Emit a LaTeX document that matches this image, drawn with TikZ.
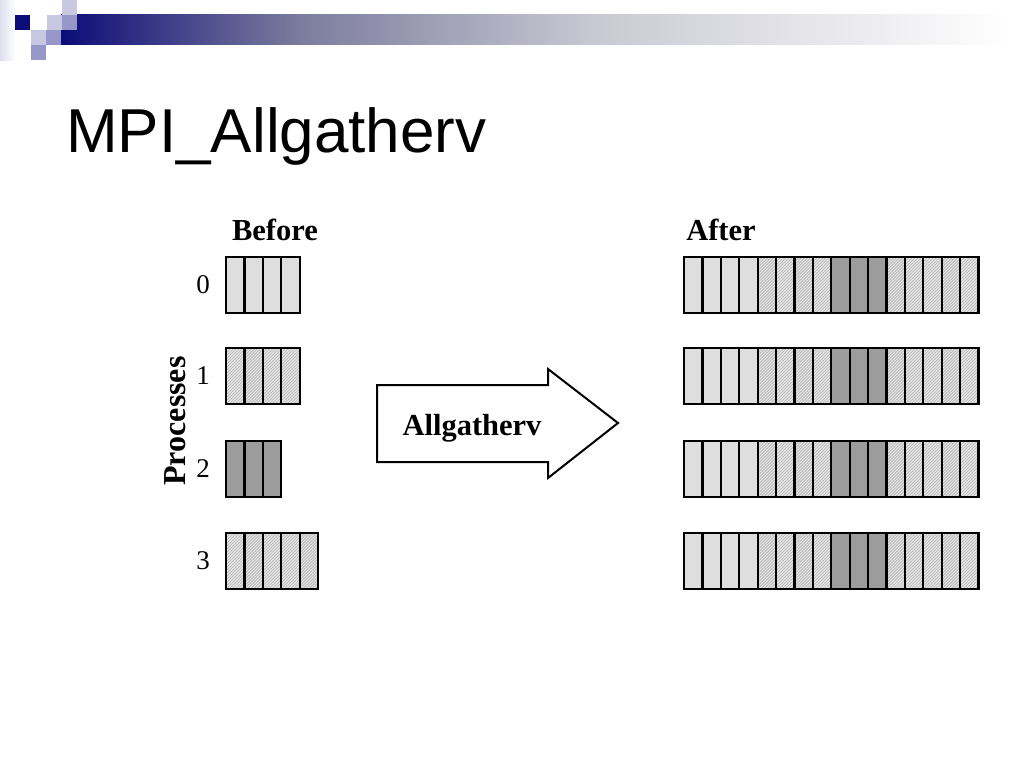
\documentclass[tikz,border=0pt]{standalone}
\usepackage{fontspec}
\setmainfont{Liberation Serif}
\newfontfamily\titlefont{Liberation Sans}
\usepackage{tikz}
\definecolor{navy}{HTML}{0C0C78}
\definecolor{barmid}{HTML}{7C7C9E}
\definecolor{barlight}{HTML}{CACAD4}
\definecolor{sqlight}{HTML}{C8C8E2}
\definecolor{sqmid}{HTML}{9696C8}
\definecolor{cellgray}{HTML}{DEDEDE}
\definecolor{hatchgray}{HTML}{E4E4E4}
\definecolor{hatchline}{HTML}{B4B4B4}
\definecolor{darkcell}{HTML}{9C9C9C}
\tikzset{
  cell/.style={draw=black, line width=2.2pt, minimum width=18.4pt, minimum height=56pt, inner sep=0pt, outer sep=0pt},
  plain/.style={fill=cellgray},
  hatch/.style={fill=hatchgray, path picture={
    \foreach \d in {-57,-54,...,18}
      \draw[hatchline, line width=0.6pt] ([xshift=\d pt]path picture bounding box.south west) -- ++(60,-60);
  }},
  dark/.style={fill=darkcell},
  rowlabel/.style={font=\fontsize{27}{30}\selectfont, inner sep=0pt},
  head/.style={font=\fontsize{30.5}{36}\selectfont\bfseries, inner sep=0pt},
  opshape/.style={draw=black, line width=2pt, fill=white, line join=miter}
}

\begin{document}
\begin{tikzpicture}[x=1pt,y=-1pt]
\useasboundingbox (0,0) rectangle (1024,768);
\shade[left color=sqlight!60, right color=white] (0,0) rectangle (15,60);
\shade[left color=navy, right color=barmid] (61,15) rectangle (300,45);
\shade[left color=barmid, right color=barlight] (300,15) rectangle (600,45);
\shade[left color=barlight, right color=white] (600,15) rectangle (1010,45);
\fill[white] (61,15) rectangle (77,30);
\fill[navy] (15,15) rectangle (30,30);
\fill[sqlight] (47,15) rectangle (62,30);
\fill[sqlight] (62,0) rectangle (77,15);
\fill[sqmid] (62,15) rectangle (77,30);
\fill[sqlight] (31,30) rectangle (46,45);
\fill[sqmid] (46,30) rectangle (61,45);
\fill[sqmid] (31,45) rectangle (46,60);
\node[anchor=base west, inner sep=0pt, font=\titlefont\fontsize{62}{70}\selectfont] (title) at (66,152) {MPI\_Allgatherv};

\node[head] (before) at (275,230) {Before};
\node[head] (after) at (721,230) {After};
\node[head, font=\fontsize{32}{36}\selectfont\bfseries, rotate=90] (procs) at (175,421) {Processes};

\foreach \r/\y/\cells in {0/285/{plain,plain,plain,plain}, 1/376/{hatch,hatch,hatch,hatch}, 2/469/{dark,dark,dark}, 3/561/{hatch,hatch,hatch,hatch,hatch}} {
  \node[rowlabel] (n\r) at (203,\y) {\r};
  \foreach \k [count=\i] in \cells
    \node[cell,\k] (b\r-\i) at ({226+18.4*(\i-0.5)},\y) {};
  \foreach \k [count=\i] in {plain,plain,plain,plain,hatch,hatch,hatch,hatch,dark,dark,dark,hatch,hatch,hatch,hatch,hatch}
    \node[cell,\k] (a\r-\i) at ({684+18.4*(\i-0.5)},\y) {};
}

\draw[opshape] (377,385) -- (548,385) -- (548,369) -- (618,423) -- (548,478) -- (548,462) -- (377,462) -- cycle;
\node[head] (op) at (472,428) {Allgatherv};
\end{tikzpicture}
\end{document}
